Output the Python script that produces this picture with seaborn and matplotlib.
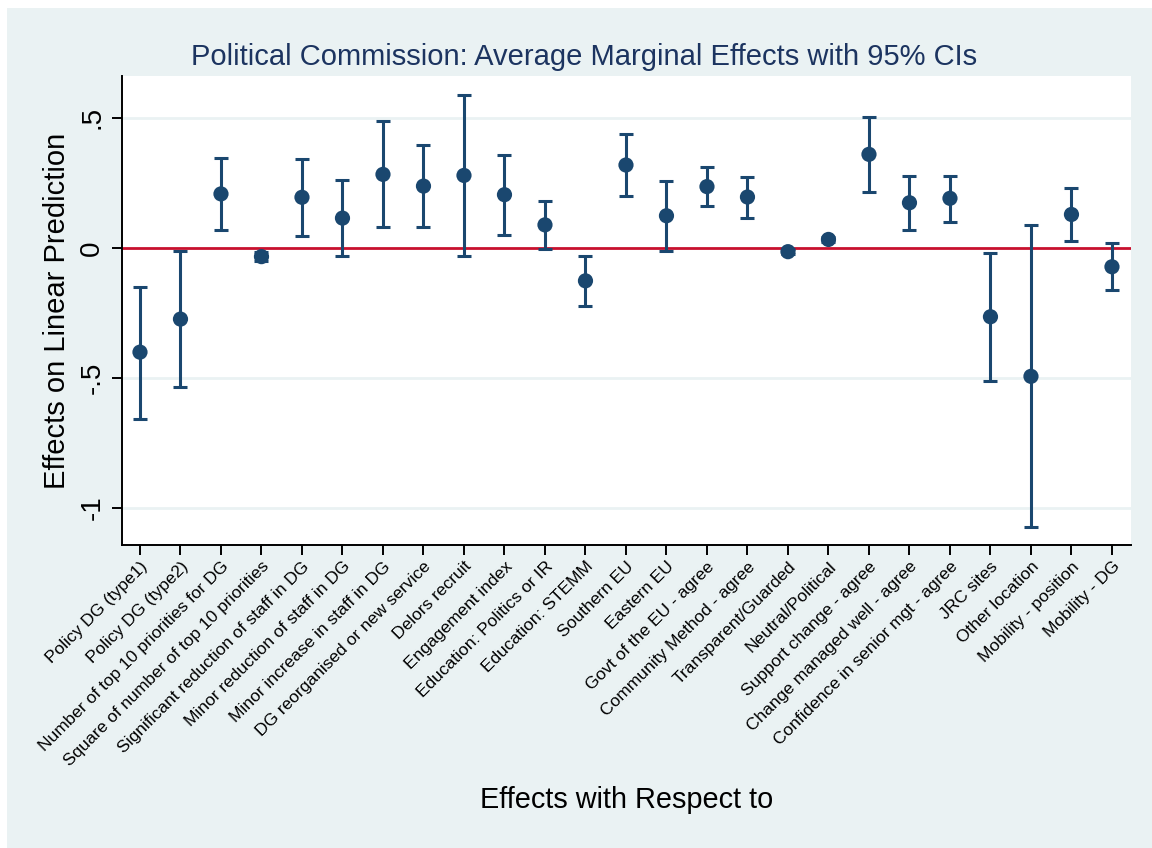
import numpy as np
import pandas as pd
import matplotlib
matplotlib.use("Agg")
import matplotlib.pyplot as plt
import seaborn as sns
from matplotlib.patches import Rectangle

# Covariates and their average marginal effects with 95% confidence bounds
labels = [
    "Policy DG (type1)", "Policy DG (type2)", "Number of top 10 priorities for DG",
    "Square of number of top 10 priorities", "Significant reduction of staff in DG",
    "Minor reduction of staff in DG", "Minor increase in staff in DG",
    "DG reorganised or new service", "Delors recruit", "Engagement index",
    "Education: Politics or IR", "Education: STEMM", "Southern EU", "Eastern EU",
    "Govt of the EU - agree", "Community Method - agree", "Transparent/Guarded",
    "Neutral/Political", "Support change - agree", "Change managed well - agree",
    "Confidence in senior mgt - agree", "JRC sites", "Other location",
    "Mobility - position", "Mobility - DG",
]
effect = [-0.401, -0.274, 0.207, -0.034, 0.194, 0.114, 0.282, 0.237, 0.278, 0.204,
          0.088, -0.127, 0.318, 0.123, 0.235, 0.195, -0.015, 0.032, 0.359, 0.173,
          0.190, -0.265, -0.494, 0.128, -0.073]
ci_low = [-0.656, -0.535, 0.069, -0.050, 0.046, -0.030, 0.078, 0.078, -0.030, 0.051,
          -0.004, -0.224, 0.199, -0.011, 0.159, 0.114, -0.025, 0.022, 0.215, 0.069,
          0.100, -0.511, -1.073, 0.026, -0.163]
ci_high = [-0.149, -0.011, 0.345, -0.018, 0.340, 0.260, 0.487, 0.395, 0.588, 0.356,
           0.181, -0.031, 0.437, 0.258, 0.310, 0.273, -0.005, 0.042, 0.503, 0.275,
           0.275, -0.020, 0.086, 0.230, 0.017]
y_ticks = [0.5, 0, -0.5, -1]
y_ticklabels = [".5", "0", "-.5", "-1"]

df = pd.DataFrame({"term": labels, "effect": effect, "lo": ci_low, "hi": ci_high})

NAVY = "#1A476F"
CRANBERRY = "#C8102E"
PANEL = "#EAF2F3"

sns.set_theme(style="white")
plt.rcParams["font.family"] = ["Liberation Sans", "DejaVu Sans"]

fig = plt.figure(figsize=(11.52, 8.48), dpi=100, facecolor="white")
fig.patches.append(Rectangle((7 / 1152, 0), 1 - 7 / 1152, 1 - 8 / 848,
                             transform=fig.transFigure, facecolor=PANEL,
                             edgecolor="none", zorder=-10))
ax = fig.add_axes([122 / 1152, 1 - 545 / 848, (1131 - 122) / 1152, (545 - 76) / 848])
ax.set_zorder(1)
ax.set_facecolor("white")

# light horizontal grid
for yv in y_ticks:
    if yv != 0:
        ax.axhline(yv, color=PANEL, lw=2, zorder=0)

ax.axhline(0, color=CRANBERRY, lw=2.0, zorder=1)

ax.errorbar(df["term"], df["effect"],
            yerr=[df["effect"] - df["lo"], df["hi"] - df["effect"]],
            fmt="none", ecolor=NAVY, elinewidth=2.2, capsize=4.8, capthick=2.2,
            zorder=2)
sns.scatterplot(data=df, x="term", y="effect", ax=ax, color=NAVY, s=120,
                edgecolor="none", zorder=3, legend=False)

ax.set_xlim(-0.444, 24.47)
ax.set_ylim(-1.142, 0.66)

ax.set_yticks(y_ticks)
ax.set_yticklabels(y_ticklabels, rotation=90, va="center", fontsize=20)
ax.set_xticks(range(len(labels)))
ax.set_xticklabels(labels, rotation=45, ha="right", rotation_mode="anchor",
                   fontsize=12.5)

for s in ["top", "right"]:
    ax.spines[s].set_visible(False)
for s in ["left", "bottom"]:
    ax.spines[s].set_color("black")
    ax.spines[s].set_linewidth(1.4)

ax.tick_params(axis="both", direction="out", length=7, width=1.4, color="black",
               colors="black", left=True, bottom=True)
ax.tick_params(axis="y", pad=5)
ax.tick_params(axis="x", pad=3)

ax.set_ylabel("Effects on Linear Prediction", fontsize=21, color="black", labelpad=6)
ax.set_xlabel("Effects with Respect to", fontsize=20.8, color="black", va="center")
ax.xaxis.set_label_coords(0.5, 1 - (800 - 76) / (545 - 76))

fig.text(584 / 1152, 1 - 57 / 848,
         "Political Commission: Average Marginal Effects with 95% CIs",
         ha="center", va="center", fontsize=21, color="#1C3460")

fig.savefig("out.png", dpi=100, facecolor=fig.get_facecolor())
